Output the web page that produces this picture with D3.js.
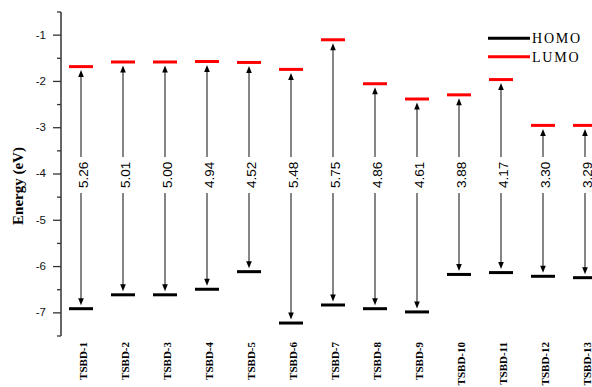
<!DOCTYPE html>
<html>
<head>
<meta charset="utf-8">
<script src="https://cdn.jsdelivr.net/npm/d3@7"></script>
<style>
  html, body { margin: 0; padding: 0; background: #fff; }
  svg { display: block; }
</style>
</head>
<body>
<svg id="chart" width="592" height="387"></svg>
<script>
// ---- data ----
const categories = ["TSBD-1","TSBD-2","TSBD-3","TSBD-4","TSBD-5","TSBD-6","TSBD-7","TSBD-8","TSBD-9","TSBD-10","TSBD-11","TSBD-12","TSBD-13"];
const lumo = [-1.68, -1.58, -1.58, -1.57, -1.59, -1.74, -1.10, -2.05, -2.38, -2.29, -1.96, -2.95, -2.95];
const homo = [-6.91, -6.61, -6.61, -6.49, -6.11, -7.22, -6.83, -6.91, -6.98, -6.17, -6.13, -6.21, -6.24];
const gapLabels = ["5.26","5.01","5.00","4.94","4.52","5.48","5.75","4.86","4.61","3.88","4.17","3.30","3.29"];
const yTickValues = [-1, -2, -3, -4, -5, -6, -7];
const yTickLabels = ["-1", "-2", "-3", "-4", "-5", "-6", "-7"];
const yMinorValues = [-1.5, -2.5, -3.5, -4.5, -5.5, -6.5, -7.5, -0.5];
const legendItems = [{name: "HOMO", color: "#000000"}, {name: "LUMO", color: "#ff0000"}];

// ---- layout ----
const svg = d3.select("#chart");
const axisX = 61;
const y = d3.scaleLinear().domain([-7.5, -0.5]).range([336, 12]);
const x = d3.scalePoint().domain(categories).range([60, 606]).padding(0.5);
const barW = 24;
const labelLevel = -4.02;
const labelHalf = 18;

// y axis
const axis = svg.append("g").attr("transform", `translate(${axisX},0)`);
axis.append("line").attr("x1", 0).attr("x2", 0).attr("y1", y(-0.5)).attr("y2", y(-7.5))
  .attr("stroke", "#333").attr("stroke-width", 1.5);
axis.selectAll("line.major").data(yTickValues).enter().append("line")
  .attr("class", "major").attr("x1", -8).attr("x2", 0)
  .attr("y1", d => y(d)).attr("y2", d => y(d)).attr("stroke", "#333").attr("stroke-width", 1.3);
axis.selectAll("line.minor").data(yMinorValues).enter().append("line")
  .attr("class", "minor").attr("x1", -4).attr("x2", 0)
  .attr("y1", d => y(d)).attr("y2", d => y(d)).attr("stroke", "#333").attr("stroke-width", 1.3);
axis.selectAll("text.tick").data(yTickValues).enter().append("text")
  .attr("class", "tick").attr("x", -15).attr("y", d => y(d)).attr("dy", "0.3em")
  .attr("text-anchor", "end").attr("font-family", "Liberation Sans, Arial, sans-serif")
  .attr("font-size", "11.5px").attr("fill", "#111")
  .text((d, i) => yTickLabels[i]);

// axis title
svg.append("text")
  .attr("transform", `translate(23,186) rotate(-90)`)
  .attr("text-anchor", "middle")
  .attr("font-family", "Liberation Serif, Times New Roman, serif")
  .attr("font-weight", "bold").attr("font-size", "15px").attr("fill", "#000")
  .text("Energy (eV)");

// arrows
const arrowColor = "#444";
const items = categories.map((c, i) => ({c, l: lumo[i], h: homo[i], g: gapLabels[i]}));
const ly = y(labelLevel);
const g = svg.append("g");
items.forEach(d => {
  const cx = x(d.c);
  const yl = y(d.l) + 3.5;
  const yh = y(d.h) - 3.5;
  g.append("line").attr("x1", cx).attr("x2", cx).attr("y1", yl + 5).attr("y2", ly - labelHalf)
    .attr("stroke", arrowColor).attr("stroke-width", 1.3);
  g.append("line").attr("x1", cx).attr("x2", cx).attr("y1", ly + labelHalf).attr("y2", yh - 5)
    .attr("stroke", arrowColor).attr("stroke-width", 1.3);
  g.append("path").attr("d", `M${cx},${yl} L${cx - 2.8},${yl + 7} L${cx + 2.8},${yl + 7} Z`).attr("fill", "#000");
  g.append("path").attr("d", `M${cx},${yh} L${cx - 2.8},${yh - 7} L${cx + 2.8},${yh - 7} Z`).attr("fill", "#000");
  g.append("text")
    .attr("transform", `translate(${cx + 2},${ly}) rotate(-90)`)
    .attr("text-anchor", "middle").attr("dy", "0.35em")
    .attr("font-family", "Liberation Sans, Arial, sans-serif")
    .attr("font-size", "13.5px").attr("fill", "#000")
    .text(d.g);
});

// level bars
svg.append("g").selectAll("line").data(items).enter().append("line")
  .attr("x1", d => x(d.c) - barW / 2).attr("x2", d => x(d.c) + barW / 2)
  .attr("y1", d => y(d.l)).attr("y2", d => y(d.l))
  .attr("stroke", "#ff0000").attr("stroke-width", 3);
svg.append("g").selectAll("line").data(items).enter().append("line")
  .attr("x1", d => x(d.c) - barW / 2).attr("x2", d => x(d.c) + barW / 2)
  .attr("y1", d => y(d.h)).attr("y2", d => y(d.h))
  .attr("stroke", "#000").attr("stroke-width", 3);

// x labels
svg.append("g").selectAll("text").data(categories).enter().append("text")
  .attr("transform", d => `translate(${x(d) + 2},342) rotate(-90)`)
  .attr("text-anchor", "end").attr("dy", "0.35em")
  .attr("font-family", "Liberation Serif, Times New Roman, serif")
  .attr("font-weight", "bold").attr("font-size", "11px").attr("fill", "#000")
  .text(d => d);

// legend
const leg = svg.append("g");
legendItems.forEach((it, i) => {
  const ly2 = 38.3 + i * 18.4;
  leg.append("line").attr("x1", 488).attr("x2", 530).attr("y1", ly2).attr("y2", ly2)
    .attr("stroke", it.color).attr("stroke-width", 3);
  leg.append("text").attr("x", 532).attr("y", ly2 + 5)
    .attr("font-family", "Liberation Serif, Times New Roman, serif")
    .attr("font-size", "14px").attr("letter-spacing", "1.8px").attr("fill", "#000")
    .text(it.name);
});
</script>
</body>
</html>
